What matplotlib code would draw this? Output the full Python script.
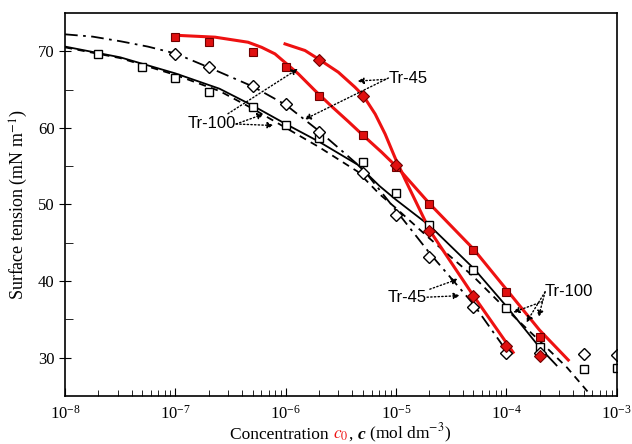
import matplotlib
matplotlib.use("Agg")
import matplotlib.pyplot as plt
from matplotlib.offsetbox import TextArea, HPacker, AnchoredOffsetbox

plt.rcParams['font.family'] = 'serif'
plt.rcParams['font.serif'] = ['Liberation Serif', 'DejaVu Serif']
plt.rcParams['mathtext.fontset'] = 'stix'

# measured points
c_sq = [2e-8, 5e-8, 1e-7, 2e-7, 5e-7, 1e-6, 2e-6, 5e-6, 1e-5, 2e-5, 5e-5, 1e-4, 2e-4, 5e-4, 1e-3]
st_sq = [69.6, 68.0, 66.5, 64.7, 62.7, 60.4, 58.7, 55.5, 51.5, 47.3, 41.4, 36.5, 31.4, 28.5, 28.6]

c_dia = [1e-7, 2e-7, 5e-7, 1e-6, 2e-6, 5e-6, 1e-5, 2e-5, 5e-5, 1e-4, 2e-4, 5e-4, 1e-3]
st_dia = [69.6, 67.9, 65.4, 63.1, 59.4, 54.1, 48.6, 43.1, 36.6, 30.6, 30.6, 30.5, 30.4]

c_rsq = [1e-7, 2e-7, 5e-7, 1e-6, 2e-6, 5e-6, 1e-5, 2e-5, 5e-5, 1e-4, 2e-4]
st_rsq = [71.8, 71.2, 69.9, 68.0, 64.2, 59.0, 54.9, 50.0, 44.1, 38.6, 32.7]

c_rdia = [2e-6, 5e-6, 1e-5, 2e-5, 5e-5, 1e-4, 2e-4]
st_rdia = [68.9, 64.2, 55.2, 46.6, 38.1, 31.5, 30.2]

# model curves (log10 c, surface tension)
lc_solid = [-8, -7.5, -7, -6.6, -6.3, -6, -5.7, -5.35, -5.15, -5, -4.694, -4.293, -4, -3.697, -3.546]
st_solid = [70.6, 69.2, 67.1, 65.1, 62.9, 60.5, 58.2, 55.2, 52.4, 50.6, 47.2, 41.6, 36.7, 31.3, 29.0]

lc_dash = [-8, -7.5, -7, -6.6, -6.3, -6, -5.7, -5.35, -5.147, -5, -4.7, -4.3, -4, -3.7, -3.45, -3.23]
st_dash = [70.5, 69.1, 66.9, 64.8, 62.5, 60.0, 57.5, 54.3, 51.3, 49.5, 45.6, 40.6, 36.3, 32.2, 28.7, 25.0]

lc_dashdot = [-8, -7.75, -7.5, -7.25, -7, -6.7, -6.3, -6, -5.7, -5.3, -5, -4.694, -4.3, -4, -3.955]
st_dashdot = [72.2, 71.9, 71.3, 70.6, 69.7, 67.9, 65.4, 63.0, 59.6, 54.6, 49.2, 43.6, 37.0, 30.9, 30.1]

lc_red100 = [-6.958, -6.641, -6.342, -6.218, -6.098, -5.887, -5.736, -5.584, -5.434, -5.298, -5.132,
             -4.98, -4.694, -4.3, -4.0, -3.7, -3.44]
st_red100 = [72.05, 71.83, 71.17, 70.5, 69.65, 67.05, 64.87, 62.79, 60.83, 59.0, 56.83,
             54.7, 50.05, 44.2, 38.9, 33.6, 29.7]

lc_red45 = [-6.007, -5.826, -5.706, -5.524, -5.373, -5.298, -5.19, -5.10, -5.01, -4.92, -4.694, -4.3, -3.94]
st_red45 = [70.95, 70.09, 69.0, 67.26, 65.3, 64.2, 61.8, 59.2, 56.1, 53.3, 46.57, 38.1, 30.7]

fig = plt.figure(figsize=(6.32, 4.44), dpi=100)
ax = fig.add_axes([0.103, 0.108, 0.873, 0.863])

ax.plot([10**v for v in lc_dash], st_dash, color='k', lw=1.3, ls=(0, (4, 3)))
ax.plot([10**v for v in lc_solid], st_solid, color='k', lw=1.3)
ax.plot([10**v for v in lc_dashdot], st_dashdot, color='k', lw=1.3, ls=(0, (7, 3, 1.5, 3)))
ax.plot([10**v for v in lc_red100], st_red100, color='#ee1111', lw=2.2, solid_joinstyle='round')
ax.plot([10**v for v in lc_red45], st_red45, color='#ee1111', lw=2.2, solid_joinstyle='round')

ax.plot(c_sq, st_sq, 's', ms=5.5, mfc='white', mec='k', mew=1.0, ls='none')
ax.plot(c_dia, st_dia, 'D', ms=6, mfc='white', mec='k', mew=1.0, ls='none')
ax.plot(c_rsq, st_rsq, 's', ms=5.5, mfc='#e01010', mec='#700000', mew=0.8, ls='none')
ax.plot(c_rdia, st_rdia, 'D', ms=6.5, mfc='#e01010', mec='#700000', mew=0.8, ls='none')

ax.set_xscale('log')
ax.set_xlim(1e-8, 1e-3)
ax.set_ylim(25, 75)
ax.set_yticks([30, 40, 50, 60, 70])
ax.set_yticks([35, 45, 55, 65], minor=True)
ax.tick_params(axis='x', which='both', direction='in', top=False, labelsize=12, pad=6)
ax.tick_params(axis='x', which='major', length=6)
ax.tick_params(axis='x', which='minor', length=4)
ax.tick_params(axis='y', which='major', direction='inout', length=8, labelsize=12)
ax.tick_params(axis='y', which='minor', direction='in', length=6)
for s in ax.spines.values():
    s.set_linewidth(1.2)

ax.set_ylabel('Surface tension (mN m$^{-1}$)', fontsize=13, labelpad=6)

# x label with a red c0
fs = 12.5
parts = [TextArea('Concentration ', textprops=dict(fontsize=fs)),
         TextArea('$c_0$', textprops=dict(fontsize=fs, color='#ee1111')),
         TextArea(', ', textprops=dict(fontsize=fs)),
         TextArea('c', textprops=dict(fontsize=fs, style='italic', weight='bold')),
         TextArea(' (mol dm$^{-3}$)', textprops=dict(fontsize=fs))]
box = HPacker(children=parts, align='baseline', pad=0, sep=0)
anch = AnchoredOffsetbox(loc='upper center', child=box, frameon=False,
                         bbox_to_anchor=(0.5, -0.052), bbox_transform=ax.transAxes, borderpad=0)
ax.add_artist(anch)

arrow = dict(arrowstyle='-|>', ls=':', lw=1.0, color='k', mutation_scale=9, shrinkA=0, shrinkB=0)
sans = dict(fontsize=12, family='Liberation Sans')

def label(text, xy_text, targets, ha):
    ax.annotate(text, xy=(10**targets[0][0], targets[0][1]), xytext=(10**xy_text[0], xy_text[1]),
                ha=ha, va='center', arrowprops=arrow, **sans)
    for t in targets[1:]:
        ax.annotate('', xy=(10**t[0], t[1]), xytext=(10**xy_text[0], xy_text[1]), arrowprops=arrow)

label('Tr-45', (-5.07, 66.5), [(-5.35, 66.1), (-5.83, 61.1)], 'left')
label('Tr-100', (-6.45, 60.5), [(-5.89, 67.7), (-6.20, 61.8), (-6.11, 60.3)], 'right')
label('Tr-45', (-4.72, 37.9), [(-4.437, 40.27), (-4.422, 38.1)], 'right')
label('Tr-100', (-3.65, 38.6), [(-3.94, 35.93), (-3.82, 34.6), (-3.71, 35.3)], 'left')

fig.savefig('out.png', dpi=100)
